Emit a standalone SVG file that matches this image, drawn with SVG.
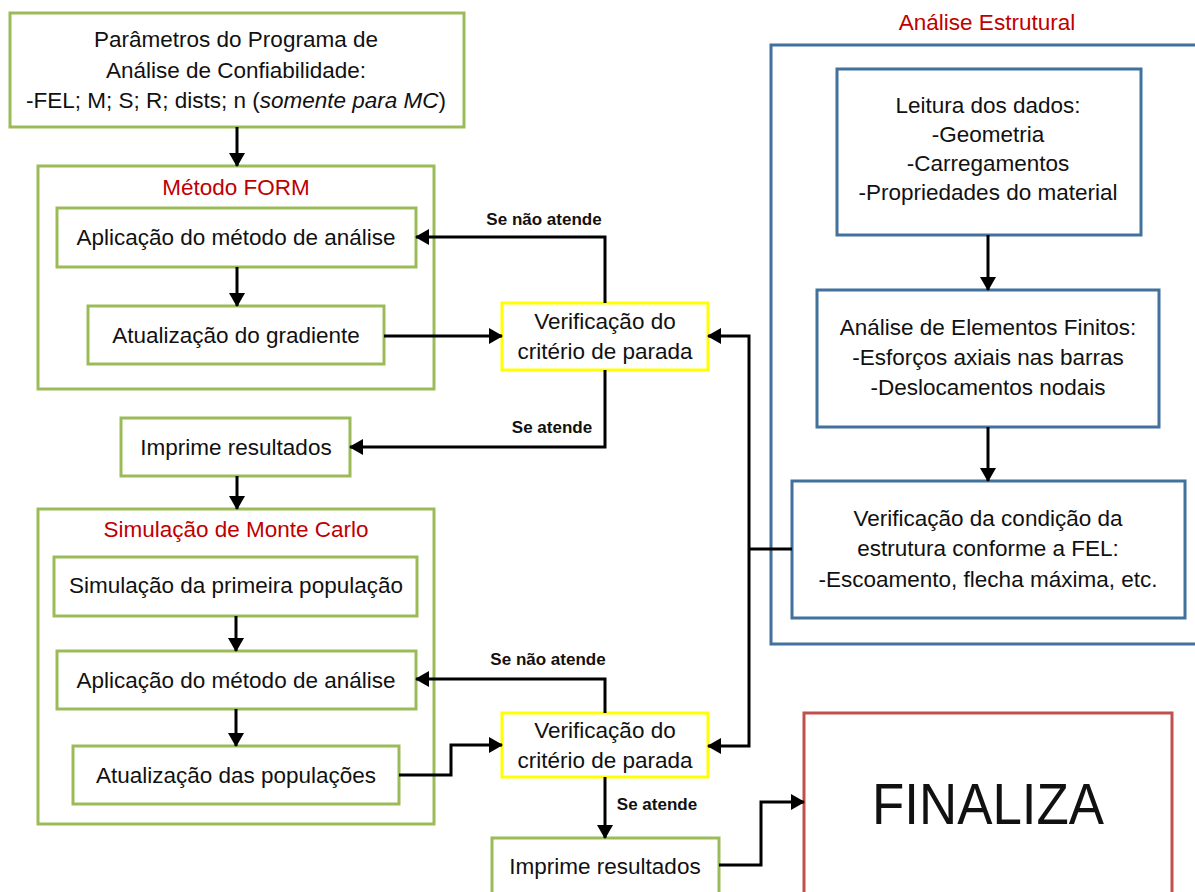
<svg xmlns="http://www.w3.org/2000/svg" width="1195" height="892" viewBox="0 0 1195 892">
<style>
  .g { fill: #fff; stroke: #9BBB59; stroke-width: 3; }
  .y { fill: #fff; stroke: #FFFF00; stroke-width: 3; }
  .b { fill: #fff; stroke: #41719C; stroke-width: 3; }
  .r { fill: #fff; stroke: #C0504D; stroke-width: 3; }
  .grp { fill: none; stroke: #9BBB59; stroke-width: 3; }
  .grpb { fill: none; stroke: #41719C; stroke-width: 3; }
  text { font-family: "Liberation Sans", Arial, sans-serif; font-size: 22.5px; fill: #111; text-anchor: middle; }
  .title { fill: #C00000; }
  .lbl { font-weight: bold; font-size: 17px; }
  .big { font-size: 57px; }
  .con { fill: none; stroke: #000; stroke-width: 3; }
  .arr { marker-end: url(#ah); }
</style>
<defs>
  <marker id="ah" viewBox="0 0 14 16" refX="13" refY="8" markerWidth="14" markerHeight="16" markerUnits="userSpaceOnUse" orient="auto">
    <path d="M0,0 L14,8 L0,16 z" fill="#000"/>
  </marker>
</defs>
<rect width="1195" height="892" fill="#fff"/>

<g id="params">
  <rect class="g" x="10" y="13" width="454" height="114"/>
  <text x="236" y="47">Parâmetros do Programa de</text>
  <text x="236" y="78">Análise de Confiabilidade:</text>
  <text x="236" y="108">-FEL; M; S; R; dists; n (<tspan font-style="italic">somente para MC</tspan>)</text>
</g>

<g id="form">
  <rect class="grp" x="38" y="166" width="396" height="223"/>
  <text class="title" x="236" y="195">Método FORM</text>
</g>
<g id="form-aplic">
  <rect class="g" x="57" y="208" width="359" height="59"/>
  <text x="236" y="245">Aplicação do método de análise</text>
</g>
<g id="form-grad">
  <rect class="g" x="88" y="306" width="296" height="58"/>
  <text x="236" y="343">Atualização do gradiente</text>
</g>
<g id="verif1">
  <rect class="y" x="502" y="303" width="206" height="67"/>
  <text x="605" y="329">Verificação do</text>
  <text x="605" y="359">critério de parada</text>
</g>
<g id="imprime1">
  <rect class="g" x="121" y="418" width="229" height="58"/>
  <text x="236" y="455">Imprime resultados</text>
</g>

<g id="mc">
  <rect class="grp" x="38" y="509" width="396" height="315"/>
  <text class="title" x="236" y="537">Simulação de Monte Carlo</text>
</g>
<g id="mc-sim">
  <rect class="g" x="54" y="557" width="363" height="59"/>
  <text x="236" y="593">Simulação da primeira população</text>
</g>
<g id="mc-aplic">
  <rect class="g" x="57" y="651" width="359" height="58"/>
  <text x="236" y="688">Aplicação do método de análise</text>
</g>
<g id="mc-pop">
  <rect class="g" x="73" y="746" width="326" height="58"/>
  <text x="236" y="783">Atualização das populações</text>
</g>
<g id="verif2">
  <rect class="y" x="502" y="713" width="206" height="64"/>
  <text x="605" y="738">Verificação do</text>
  <text x="605" y="768">critério de parada</text>
</g>
<g id="imprime2">
  <rect class="g" x="492" y="838" width="227" height="60"/>
  <text x="605" y="874">Imprime resultados</text>
</g>
<g id="finaliza">
  <rect class="r" x="804" y="713" width="368" height="185"/>
  <text class="big" x="988" y="824" textLength="232" lengthAdjust="spacingAndGlyphs">FINALIZA</text>
</g>

<g id="analise">
  <rect class="grpb" x="771" y="45" width="440" height="599"/>
  <text class="title" x="987" y="30">Análise Estrutural</text>
</g>
<g id="leitura">
  <rect class="b" x="837" y="69" width="304" height="166"/>
  <text x="988" y="113">Leitura dos dados:</text>
  <text x="988" y="142">-Geometria</text>
  <text x="988" y="171">-Carregamentos</text>
  <text x="988" y="200">-Propriedades do material</text>
</g>
<g id="aef">
  <rect class="b" x="817" y="290" width="342" height="137"/>
  <text x="988" y="335">Análise de Elementos Finitos:</text>
  <text x="988" y="365">-Esforços axiais nas barras</text>
  <text x="988" y="395">-Deslocamentos nodais</text>
</g>
<g id="verifcond">
  <rect class="b" x="792" y="481" width="393" height="137"/>
  <text x="988" y="526">Verificação da condição da</text>
  <text x="988" y="556">estrutura conforme a FEL:</text>
  <text x="988" y="587">-Escoamento, flecha máxima, etc.</text>
</g>

<g id="connectors">
  <path class="con arr" d="M237,127 V166"/>
  <path class="con arr" d="M237,267 V306"/>
  <path class="con arr" d="M384,336 H502"/>
  <path class="con arr" d="M605,303 V237 H416"/>
  <path class="con arr" d="M605,370 V447 H350"/>
  <path class="con arr" d="M237,476 V509"/>
  <path class="con arr" d="M236,616 V651"/>
  <path class="con arr" d="M236,709 V746"/>
  <path class="con arr" d="M399,775 H451 V745 H502"/>
  <path class="con arr" d="M605,713 V679 H416"/>
  <path class="con arr" d="M605,777 V838"/>
  <path class="con arr" d="M719,865 H761 V802 H804"/>
  <path class="con arr" d="M988,235 V290"/>
  <path class="con arr" d="M988,427 V481"/>
  <path class="con" d="M792,549 H749"/>
  <path class="con arr" d="M749,549 V336 H708"/>
  <path class="con arr" d="M749,549 V746 H708"/>
  <text class="lbl" x="544" y="225">Se não atende</text>
  <text class="lbl" x="552" y="433">Se atende</text>
  <text class="lbl" x="548" y="665">Se não atende</text>
  <text class="lbl" x="657" y="810">Se atende</text>
</g>
</svg>
